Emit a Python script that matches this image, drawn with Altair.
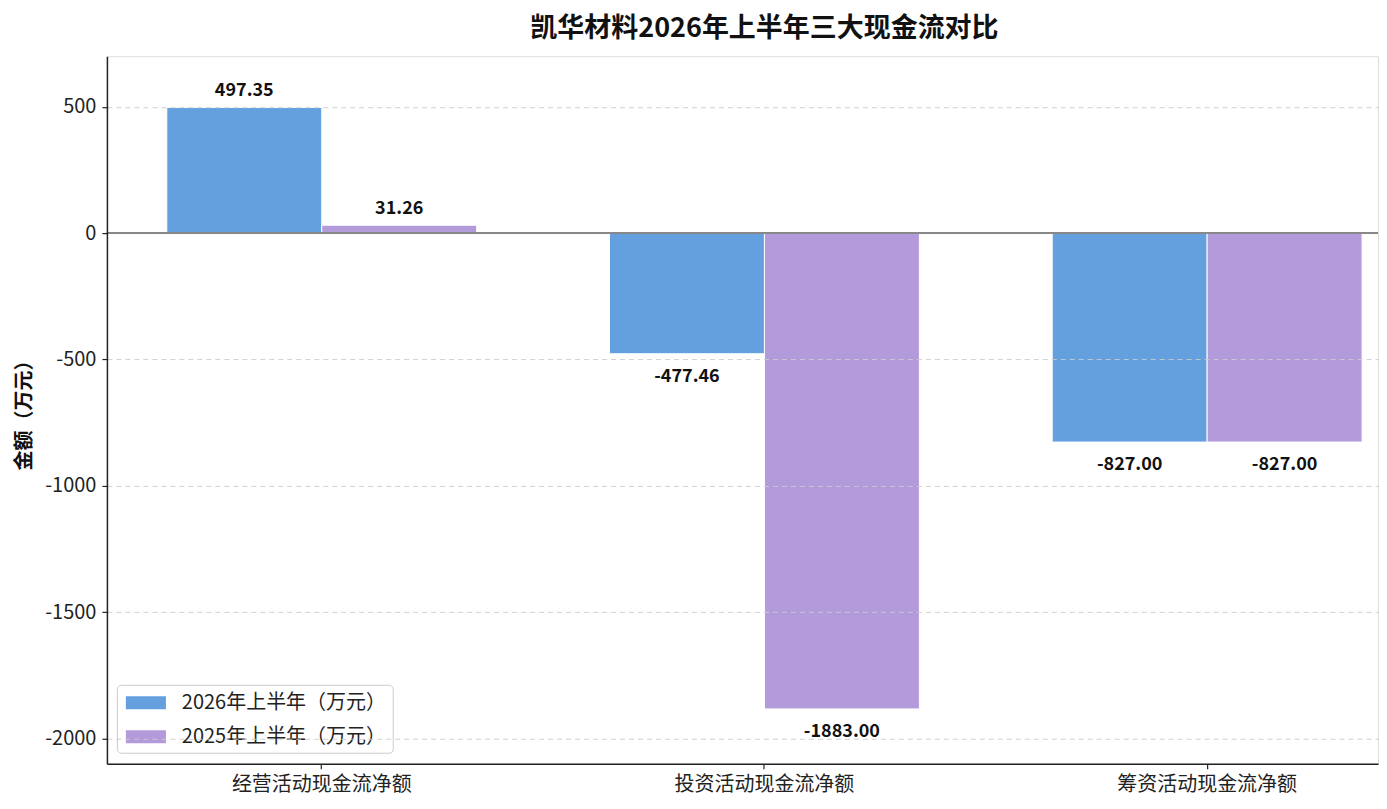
import altair as alt
import pandas as pd

categories = ["经营活动现金流净额", "投资活动现金流净额", "筹资活动现金流净额"]
series = ["2026年上半年（万元）", "2025年上半年（万元）"]
values_2026 = [497.35, -477.46, -827.00]
values_2025 = [31.26, -1883.00, -827.00]
colors = ["#64A0DE", "#B39ADB"]
y_ticks = [500, 0, -500, -1000, -1500, -2000]

rows = []
for c, a, b in zip(categories, values_2026, values_2025):
    rows.append({"cat": c, "series": series[0], "value": a})
    rows.append({"cat": c, "series": series[1], "value": b})
df = pd.DataFrame(rows)
df["label"] = df["value"].map(lambda v: f"{v:.2f}")

FONT = "Noto Sans CJK SC"
W, H = 1272, 708

base = alt.Chart(df).encode(
    x=alt.X(
        "cat:N",
        sort=categories,
        scale=alt.Scale(paddingInner=0.3, paddingOuter=0.0856, align=0.79),
        axis=alt.Axis(
            title=None, labelAngle=0, labelFontSize=20, labelFont=FONT,
            labelColor="#222222", labelPadding=6, tickSize=5, tickColor="#222222",
            domainColor="#222222", domainWidth=1.5, tickWidth=1.2,
        ),
    ),
    xOffset=alt.XOffset("series:N", sort=series, scale=alt.Scale(paddingInner=0, paddingOuter=0)),
    y=alt.Y(
        "value:Q",
        scale=alt.Scale(domain=[-2100, 700], nice=False, zero=False),
        axis=alt.Axis(
            title="金额（万元）", titleFontSize=20, titleFontWeight="bold", titleFont=FONT,
            titleColor="#111111", titlePadding=10,
            values=y_ticks, labelExpr="datum.value + ''", labelFontSize=20, labelFont=FONT,
            labelColor="#222222",
            labelPadding=6, tickSize=5, tickColor="#222222", tickWidth=1.2,
            domainColor="#222222", domainWidth=1.5,
            grid=True, gridColor="#cccccc", gridDash=[5, 4], gridWidth=1,
            gridOpacity={"condition": {"test": "datum.value === 0", "value": 0}, "value": 0.9},
            zindex=1,
        ),
    ),
)

bars = base.mark_bar(stroke="white", strokeWidth=1).encode(
    color=alt.Color(
        "series:N", sort=series,
        scale=alt.Scale(domain=series, range=colors),
        legend=alt.Legend(
            title=None, orient="none", legendX=10, legendY=629,
            direction="vertical",
            symbolType="M-1.67,-0.54L1.67,-0.54L1.67,0.54L-1.67,0.54Z",
            symbolSize=576, symbolStrokeWidth=0, symbolOffset=11,
            labelOffset=24, labelFontSize=20, labelFont=FONT, labelColor="#222222",
            labelLimit=400,
            rowPadding=12, padding=6,
            strokeColor="#cccccc", fillColor="#ffffff", cornerRadius=4,
        ),
    ),
)

pos = base.transform_filter("datum.value >= 0").mark_text(
    dy=-16, fontWeight="bold", fontSize=18, font=FONT, color="#111111"
).encode(text="label:N")

neg = base.transform_filter("datum.value < 0").mark_text(
    dy=23, fontWeight="bold", fontSize=18, font=FONT, color="#111111"
).encode(text="label:N")

zero = alt.Chart(df).mark_rule(color="#888888", strokeWidth=1.5).encode(y=alt.datum(0))

chart = (
    alt.layer(bars, zero, pos, neg)
    .properties(
        width=W, height=H,
        padding={"left": 6, "right": 0, "top": 7, "bottom": 4},
        title=alt.TitleParams(
            "凯华材料2026年上半年三大现金流对比", fontSize=27, fontWeight="bold",
            font=FONT, color="#111111", anchor="middle", frame="group", dx=22, offset=13,
        ),
    )
    .configure_view(fill="#F9F9F9", stroke="transparent", strokeWidth=0)
    .configure(background="#ffffff")
)

chart.save("out.html", embed_options={"renderer": "svg", "actions": False})
